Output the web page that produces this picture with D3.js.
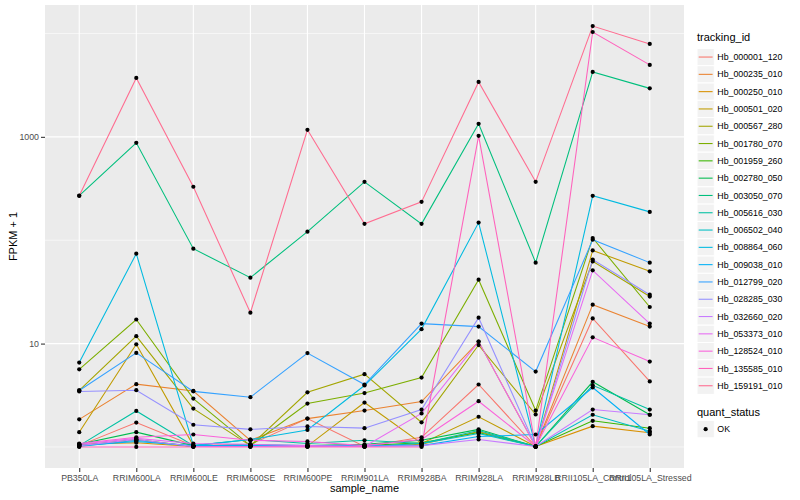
<!DOCTYPE html>
<html>
<head>
<meta charset="utf-8">
<script src="https://cdn.jsdelivr.net/npm/d3@7.9.0/dist/d3.min.js"></script>
<style>
  body { margin: 0; background: #fff; }
  text { font-family: "Liberation Sans", Arial, Helvetica, sans-serif; }
</style>
</head>
<body>
<svg id="chart" width="800" height="500"></svg>
<script>
// ---- data (FPKM + 1) ----
const samples = ['PB350LA', 'RRIM600LA', 'RRIM600LE', 'RRIM600SE', 'RRIM600PE', 'RRIM901LA',
  'RRIM928BA', 'RRIM928LA', 'RRIM928LB', 'RRII105LA_Control', 'RRII105LA_Stressed'];

const trackingIds = ['Hb_000001_120', 'Hb_000235_010', 'Hb_000250_010', 'Hb_000501_020',
  'Hb_000567_280', 'Hb_001780_070', 'Hb_001959_260', 'Hb_002780_050', 'Hb_003050_070',
  'Hb_005616_030', 'Hb_006502_040', 'Hb_008864_060', 'Hb_009038_010', 'Hb_012799_020',
  'Hb_028285_030', 'Hb_032660_020', 'Hb_053373_010', 'Hb_128524_010', 'Hb_135585_010',
  'Hb_159191_010'];

// ggplot hue palette for 20 levels
const palette = ['#F8766D', '#EA8331', '#D89000', '#C09B00', '#A3A500', '#7CAE00', '#39B600',
  '#00BB4E', '#00BF7D', '#00C1A3', '#00BFC4', '#00BAE0', '#00B0F6', '#35A2FF', '#9590FF',
  '#C77CFF', '#E76BF3', '#FA62DB', '#FF62BC', '#FF6C90'];

// one row per tracking id, one value per sample
const fpkm1 = [
  [1.03, 1.72, 1.03, 1.06, 1.88, 1.01, 1.24, 4.02, 1.01, 17.5, 4.30],
  [1.85, 4.05, 3.48, 1.16, 1.88, 2.25, 2.75, 10.45, 1.01, 23.8, 14.6],
  [1.06, 1.10, 1.01, 1.01, 1.01, 1.01, 1.06, 1.41, 1.01, 1.59, 1.37],
  [1.39, 9.84, 1.03, 1.03, 1.02, 2.69, 1.08, 1.96, 1.01, 79.6, 50.0],
  [3.52, 11.8, 2.35, 1.03, 3.38, 5.06, 1.73, 9.68, 2.06, 62.4, 28.5],
  [5.63, 17.1, 2.94, 1.03, 2.63, 3.32, 4.69, 41.5, 2.25, 105, 22.6],
  [1.03, 1.18, 1.01, 1.01, 1.01, 1.03, 1.10, 1.38, 1.01, 1.79, 1.52],
  [1.06, 1.39, 1.03, 1.03, 1.03, 1.06, 1.16, 1.48, 1.01, 4.27, 2.05],
  [270, 875, 82.8, 43.4, 121, 367, 144, 1337, 60.7, 4248, 2944],
  [1.03, 2.23, 1.03, 1.18, 1.08, 1.16, 1.08, 1.44, 1.01, 3.95, 2.30],
  [1.01, 1.16, 1.01, 1.06, 1.03, 1.01, 1.08, 1.35, 1.01, 2.05, 1.42],
  [6.55, 74.1, 1.03, 1.18, 1.46, 3.93, 13.8, 148, 1.01, 269, 188],
  [1.03, 1.13, 1.03, 1.03, 1.03, 1.03, 1.03, 1.26, 1.32, 3.76, 1.32],
  [3.52, 8.13, 3.45, 3.03, 8.1, 4.02, 15.6, 14.6, 5.36, 101, 60.7],
  [3.44, 3.54, 1.64, 1.48, 1.58, 1.52, 2.30, 17.8, 1.01, 64.9, 29.7],
  [1.03, 1.18, 1.01, 1.01, 1.01, 1.01, 1.03, 1.18, 1.01, 2.30, 2.05],
  [1.06, 1.21, 1.08, 1.06, 1.03, 1.01, 2.11, 10.45, 1.01, 51.1, 15.6],
  [1.08, 1.24, 1.32, 1.16, 1.13, 1.03, 1.18, 2.77, 1.01, 11.5, 6.70],
  [1, 1, 1, 1, 1, 1, 1, 1023, 1, 10330, 4966],
  [269, 3715, 329, 19.9, 1170, 144, 235, 3397, 367, 11800, 7925]
];

const yBreaks = [10, 1000];
const yMinor = [1, 100, 10000];
const statusLevels = ['OK'];

// ---- layout ----
const panel = { left: 45, right: 684, top: 5, bottom: 468 };
const svg = d3.select('#chart');

// log scale with ggplot's 5% expansion
const logs = fpkm1.flat().map(Math.log10);
const [lo, hi] = d3.extent(logs);
const pad = (hi - lo) * 0.05;
const y = d3.scaleLog()
  .domain([10 ** (lo - pad), 10 ** (hi + pad)])
  .range([panel.bottom, panel.top]);
const x = d3.scalePoint()
  .domain(samples)
  .range([panel.left, panel.right])
  .padding(0.6);
const color = d3.scaleOrdinal().domain(trackingIds).range(palette);

// panel background + grid
svg.append('rect')
  .attr('x', panel.left).attr('y', panel.top)
  .attr('width', panel.right - panel.left).attr('height', panel.bottom - panel.top)
  .attr('fill', '#EBEBEB');

const grid = svg.append('g').attr('stroke', '#fff').attr('fill', 'none');
yMinor.forEach(v => {
  grid.append('line')
    .attr('x1', panel.left).attr('x2', panel.right)
    .attr('y1', y(v)).attr('y2', y(v))
    .attr('stroke-width', 0.55);
});
yBreaks.forEach(v => {
  grid.append('line')
    .attr('x1', panel.left).attr('x2', panel.right)
    .attr('y1', y(v)).attr('y2', y(v))
    .attr('stroke-width', 1.1);
});
samples.forEach(s => {
  grid.append('line')
    .attr('x1', x(s)).attr('x2', x(s))
    .attr('y1', panel.top).attr('y2', panel.bottom)
    .attr('stroke-width', 1.1);
});

// lines
const line = d3.line()
  .x((d, i) => x(samples[i]))
  .y(d => y(d));

const series = fpkm1.map((vals, i) => ({ id: trackingIds[i], vals }));

svg.append('g')
  .selectAll('path')
  .data(series)
  .join('path')
  .attr('d', d => line(d.vals))
  .attr('fill', 'none')
  .attr('stroke', d => color(d.id))
  .attr('stroke-width', 1.07);

// points
const pts = series.flatMap(d => d.vals.map((v, i) => ({ s: samples[i], v })));
svg.append('g')
  .selectAll('circle')
  .data(pts)
  .join('circle')
  .attr('cx', d => x(d.s))
  .attr('cy', d => y(d.v))
  .attr('r', 2.1)
  .attr('fill', '#000');

// axes
const yAxis = svg.append('g')
  .attr('transform', `translate(${panel.left},0)`)
  .call(d3.axisLeft(y).tickValues(yBreaks).tickFormat(d3.format('d')).tickSize(4).tickPadding(2));
const xAxis = svg.append('g')
  .attr('transform', `translate(0,${panel.bottom})`)
  .call(d3.axisBottom(x).tickSize(4).tickPadding(2.3));

[yAxis, xAxis].forEach(g => {
  g.select('.domain').remove();
  g.selectAll('.tick line').attr('stroke', '#333333').attr('stroke-width', 1.07);
  g.selectAll('.tick text')
    .attr('fill', '#4D4D4D')
    .style('font-size', '8.8px')
    .style('font-family', '"Liberation Sans", Arial, sans-serif');
});

// axis titles
svg.append('text')
  .attr('x', (panel.left + panel.right) / 2)
  .attr('y', 492)
  .attr('text-anchor', 'middle')
  .style('font-size', '11px')
  .text('sample_name');

svg.append('text')
  .attr('transform', `translate(17,${(panel.top + panel.bottom) / 2}) rotate(-90)`)
  .attr('text-anchor', 'middle')
  .style('font-size', '11px')
  .text('FPKM + 1');

// legend: tracking_id
const legX = 697, keySize = 17.3;
const leg = svg.append('g');
leg.append('text')
  .attr('x', legX).attr('y', 41)
  .style('font-size', '11px')
  .text('tracking_id');

const keyTop = 48.4;
trackingIds.forEach((id, i) => {
  const ky = keyTop + i * keySize;
  leg.append('rect')
    .attr('x', legX).attr('y', ky)
    .attr('width', keySize).attr('height', keySize)
    .attr('fill', '#F2F2F2').attr('stroke', '#fff').attr('stroke-width', 1);
  leg.append('line')
    .attr('x1', legX + 1.7).attr('x2', legX + keySize - 1.7)
    .attr('y1', ky + keySize / 2).attr('y2', ky + keySize / 2)
    .attr('stroke', color(id)).attr('stroke-width', 1.07);
  leg.append('text')
    .attr('x', legX + keySize + 3).attr('y', ky + keySize / 2)
    .attr('dy', '0.35em')
    .style('font-size', '8.8px')
    .text(id);
});

// legend: quant_status
leg.append('text')
  .attr('x', legX).attr('y', 416)
  .style('font-size', '11px')
  .text('quant_status');

statusLevels.forEach((lvl, i) => {
  const ky = 420.5 + i * keySize;
  leg.append('rect')
    .attr('x', legX).attr('y', ky)
    .attr('width', keySize).attr('height', keySize)
    .attr('fill', '#F2F2F2').attr('stroke', '#fff');
  leg.append('circle')
    .attr('cx', legX + keySize / 2).attr('cy', ky + keySize / 2)
    .attr('r', 2.1).attr('fill', '#000');
  leg.append('text')
    .attr('x', legX + keySize + 3).attr('y', ky + keySize / 2)
    .attr('dy', '0.35em')
    .style('font-size', '8.8px')
    .text(lvl);
});
</script>
</body>
</html>
